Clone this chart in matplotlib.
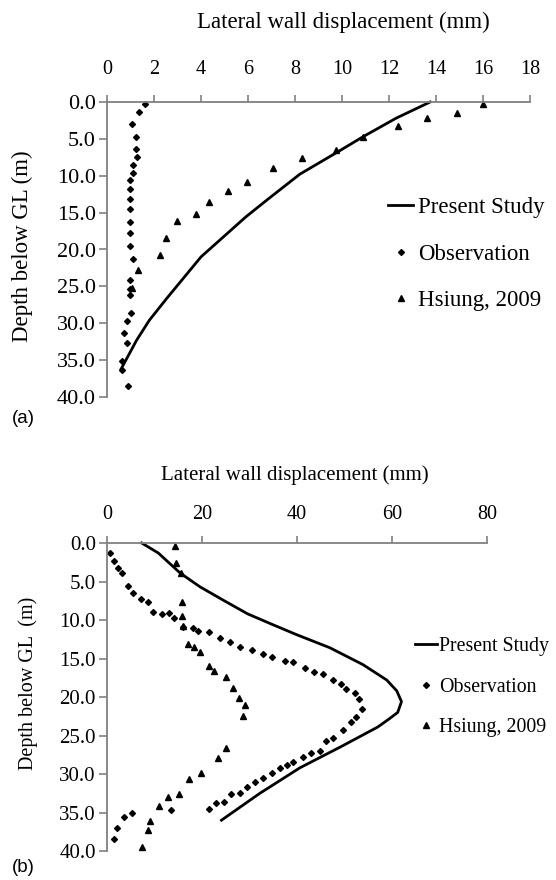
import numpy as np
import matplotlib
matplotlib.use("Agg")
import matplotlib.pyplot as plt

# lateral wall displacement (mm) vs depth below ground level (m)

# (a) present study curve
a_model_disp = [13.75, 12.3, 10.9, 9.8, 8.2, 6.8, 5.9, 4.0, 2.55, 1.8, 1.26, 0.6]
a_model_depth = [0.0, 2.2, 4.7, 6.8, 9.8, 13.3, 15.6, 21.0, 26.6, 29.6, 32.3, 36.2]
# (a) observation
a_obs_disp = [1.62, 1.36, 1.07, 1.23, 1.23, 1.26, 1.12, 1.12, 0.98, 0.98, 0.98, 0.98,
              0.98, 0.98, 0.98, 1.12, 0.98, 0.98, 0.98, 1.0, 0.87, 0.72, 0.87, 0.62,
              0.62, 0.91]
a_obs_depth = [0.3, 1.3, 3.0, 4.7, 6.4, 7.5, 8.6, 9.6, 10.6, 11.8, 13.2, 14.5,
               16.3, 17.8, 19.5, 21.3, 24.1, 25.3, 26.2, 28.6, 29.7, 31.3, 32.7, 35.1,
               36.3, 38.5]
# (a) Hsiung, 2009
a_hs_disp = [16.0, 14.9, 13.6, 12.4, 10.9, 9.75, 8.3, 7.07, 5.96, 5.15, 4.34, 3.79,
             2.98, 2.5, 2.26, 1.32, 1.06]
a_hs_depth = [0.3, 1.5, 2.2, 3.3, 4.8, 6.5, 7.6, 9.0, 10.8, 12.0, 13.5, 15.2,
              16.2, 18.5, 20.7, 22.8, 25.2]

# (b) present study curve
b_model_disp = [7.3, 10.8, 15.4, 19.6, 24.4, 29.6, 34.5, 39.9, 46.9, 53.9, 58.9, 61.0,
                62.0, 61.2, 59.5, 57.0, 49.1, 40.6, 32.2, 24.1]
b_model_depth = [0.0, 1.3, 3.9, 5.7, 7.4, 9.2, 10.5, 11.9, 13.6, 15.8, 17.8, 19.2,
                 20.6, 22.0, 22.8, 23.9, 26.5, 29.2, 32.5, 36.0]
# (b) observation
b_obs_disp = [0.6, 1.5, 2.4, 3.2, 4.5, 5.4, 7.1, 8.7, 9.6, 11.5, 13.1, 14.1, 16.1, 18.0,
              19.1, 21.4, 23.8, 25.9, 28.1, 30.5, 32.8, 34.8, 37.5, 39.1, 41.7, 43.6,
              45.4, 47.6, 49.3, 50.3, 52.2, 53.1, 53.6, 52.4, 51.3, 49.6, 47.6, 46.1,
              44.8, 42.9, 41.3, 39.2, 37.9, 36.4, 34.7, 32.8, 31.2, 29.5, 28.0, 26.1,
              24.7, 22.9, 21.5, 13.4, 5.2, 3.6, 2.2, 1.5]
b_obs_depth = [1.3, 2.3, 3.2, 3.9, 5.6, 6.5, 7.3, 7.7, 8.9, 9.2, 9.1, 9.7, 10.9, 11.0,
               11.4, 11.6, 12.4, 12.8, 13.5, 13.9, 14.4, 14.8, 15.3, 15.4, 16.2, 16.8,
               17.0, 17.8, 18.3, 19.0, 19.5, 20.3, 21.5, 22.6, 23.2, 24.3, 25.3, 25.7,
               27.0, 27.3, 27.8, 28.4, 28.8, 29.2, 29.9, 30.5, 31.1, 31.7, 32.5, 32.6,
               33.6, 33.8, 34.5, 34.7, 35.0, 35.6, 37.0, 38.4]
# (b) Hsiung, 2009
b_hs_disp = [14.4, 14.5, 15.5, 15.7, 15.7, 16.0, 17.1, 18.3, 19.6, 21.5, 22.5, 25.1,
             26.6, 27.8, 29.1, 28.6, 25.1, 23.4, 19.8, 17.3, 15.2, 12.9, 10.9, 9.1,
             8.6, 7.4]
b_hs_depth = [0.4, 2.6, 3.9, 7.7, 9.5, 10.8, 13.1, 13.5, 14.2, 16.0, 16.6, 17.4,
              18.8, 20.1, 21.0, 22.5, 26.6, 27.9, 29.9, 30.7, 32.6, 33.0, 34.2, 36.1,
              37.3, 39.5]

a_xticks = list(range(0, 19, 2))
b_xticks = [0, 20, 40, 60, 80]
depth_ticks = [0, 5, 10, 15, 20, 25, 30, 35, 40]

W, H = 556, 880
SERIF = "Liberation Serif"
GREY = "#808080"


def fx(px):
    return px / W


def fy(py):
    return 1 - py / H


def style_axes(ax, xticks, xfs, xpad, yfs):
    ax.xaxis.tick_top()
    for s in ["right", "bottom"]:
        ax.spines[s].set_visible(False)
    for s in ["top", "left"]:
        ax.spines[s].set_color(GREY)
        ax.spines[s].set_linewidth(1.3)
    ax.set_xticks(xticks)
    ax.set_xlim(xticks[0], xticks[-1])
    ax.set_yticks(depth_ticks)
    ax.set_yticklabels(["%.1f" % d for d in depth_ticks])
    ax.set_ylim(40, 0)
    ax.tick_params(axis="x", direction="out", length=5, width=1.2, color=GREY,
                   pad=xpad, labelsize=xfs)
    ax.tick_params(axis="y", direction="out", length=6, width=1.2, color=GREY,
                   pad=2, labelsize=yfs)
    for lab in ax.get_xticklabels() + ax.get_yticklabels():
        lab.set_fontfamily(SERIF)


def draw_series(ax, md, mz, od, oz, hd, hz):
    ax.plot(md, mz, "-", color="black", lw=2.0, label="Present Study", clip_on=False)
    ax.plot(od, oz, "D", color="black", ms=3.0, ls="none", label="Observation",
            clip_on=False)
    ax.plot(hd, hz, "^", color="black", ms=4.0, ls="none", label="Hsiung, 2009",
            clip_on=False)


fig = plt.figure(figsize=(W / 100, H / 100), dpi=100)

# panel (a)
ax1 = fig.add_axes([fx(107), fy(397), (530 - 107) / W, (397 - 102) / H])
draw_series(ax1, a_model_disp, a_model_depth, a_obs_disp, a_obs_depth,
            a_hs_disp, a_hs_depth)
style_axes(ax1, a_xticks, 14.5, 11.5, 16)
fig.text(fx(343), fy(22), "Lateral wall displacement (mm)", ha="center", va="center",
         fontsize=16.5, family=SERIF)
fig.text(fx(22), fy(246), "Depth below GL (m)", ha="center", va="center",
         rotation=90, fontsize=16.5, family=SERIF)
ax1.legend(loc="center left", bbox_to_anchor=((388 - 107) / 423, (397 - 254) / 295),
           frameon=False, borderpad=0, borderaxespad=0, handlelength=1.1,
           handletextpad=0.2, labelspacing=1.1,
           prop={"family": SERIF, "size": 16.5})
fig.text(fx(12), fy(418), "(a)", ha="left", va="center", fontsize=13.5,
         family="Liberation Sans")

# panel (b)
ax2 = fig.add_axes([fx(107), fy(851), (487 - 107) / W, (851 - 543) / H])
draw_series(ax2, b_model_disp, b_model_depth, b_obs_disp, b_obs_depth,
            b_hs_disp, b_hs_depth)
style_axes(ax2, b_xticks, 14.5, 8.5, 15)
fig.text(fx(295), fy(475), "Lateral wall displacement (mm)", ha="center", va="center",
         fontsize=15, family=SERIF)
fig.text(fx(28), fy(683), "Depth below GL  (m)", ha="center", va="center",
         rotation=90, fontsize=14.5, family=SERIF)
ax2.legend(loc="center left", bbox_to_anchor=((415 - 107) / 380, (851 - 687) / 308),
           frameon=False, borderpad=0, borderaxespad=0, handlelength=1.1,
           handletextpad=0.1, labelspacing=1.1,
           prop={"family": SERIF, "size": 14.3})
fig.text(fx(12), fy(867), "(b)", ha="left", va="center", fontsize=13.5,
         family="Liberation Sans")

fig.savefig("out.png", dpi=100)
